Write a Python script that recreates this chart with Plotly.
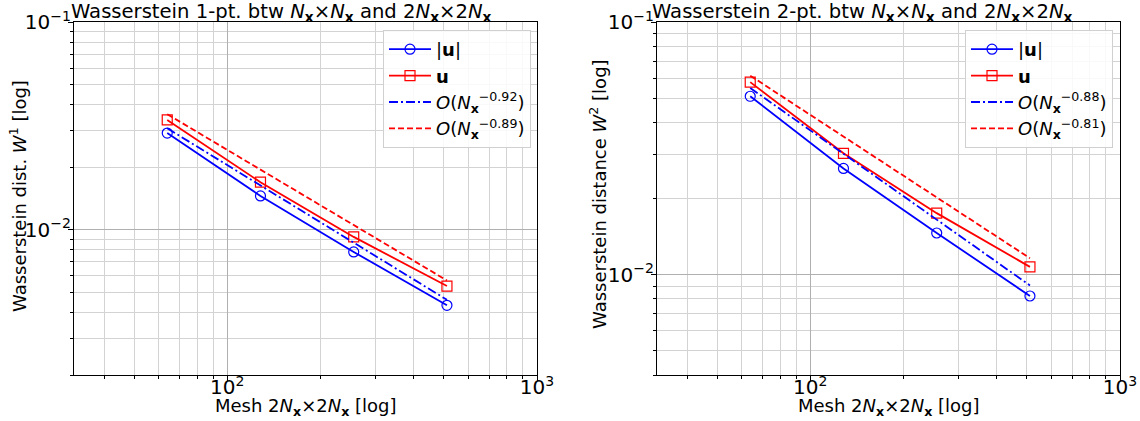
import math
import plotly.graph_objects as go

# ---------------- data ----------------
mesh = [64, 128, 256, 512]
fit_x = [64, 512]

w1_abs = [0.0292, 0.01455, 0.00782, 0.00433]
w1_vec = [0.0338, 0.01694, 0.00924, 0.00536]
w1_fit_abs = [0.0308, 0.0046]
w1_fit_vec = [0.0360, 0.0057]

w2_abs = [0.0508, 0.0263, 0.0146, 0.00822]
w2_vec = [0.0578, 0.0302, 0.0175, 0.01072]
w2_fit_abs = [0.0548, 0.00905]
w2_fit_vec = [0.0613, 0.0116]

w1_rates = ["0.92", "0.89"]
w2_rates = ["0.88", "0.81"]

# ---------------- figure ----------------
W, H = 1140, 421
FONT = "DejaVu Sans"
BLUE = "#0000ff"
RED = "#ff0000"

NX = "<i>N</i><sub><b>x</b></sub>"


def rate_label(r):
    return "<i>O</i>(" + NX + "<sup>\u2212" + r + "</sup>)"


fig = go.Figure()


def add_panel(xa, ya, legend, abs_v, vec_v, fit_abs, fit_vec, rates):
    fig.add_trace(go.Scatter(
        x=mesh, y=abs_v, mode="lines+markers", name="|<b>u</b>|",
        line=dict(color=BLUE, width=1.8),
        marker=dict(symbol="circle-open", size=10, color=BLUE, line=dict(width=1.2)),
        xaxis=xa, yaxis=ya, legend=legend))
    fig.add_trace(go.Scatter(
        x=mesh, y=vec_v, mode="lines+markers", name="<b>u</b>",
        line=dict(color=RED, width=1.8),
        marker=dict(symbol="square-open", size=10, color=RED, line=dict(width=1.2)),
        xaxis=xa, yaxis=ya, legend=legend))
    fig.add_trace(go.Scatter(
        x=fit_x, y=fit_abs, mode="lines", name=rate_label(rates[0]),
        line=dict(color=BLUE, width=1.8, dash="9px,3px,2px,3px"),
        xaxis=xa, yaxis=ya, legend=legend))
    fig.add_trace(go.Scatter(
        x=fit_x, y=fit_vec, mode="lines", name=rate_label(rates[1]),
        line=dict(color=RED, width=1.8, dash="6px,3px"),
        xaxis=xa, yaxis=ya, legend=legend))


add_panel("x", "y", "legend", w1_abs, w1_vec, w1_fit_abs, w1_fit_vec, w1_rates)
add_panel("x2", "y2", "legend2", w2_abs, w2_vec, w2_fit_abs, w2_fit_vec, w2_rates)

# plot-area pixel boxes
L1, R1 = 74, 537
L2, R2 = 657, 1120
TOP, BOT = 22, 375


def px(v):
    return v / W


def py(v):
    return 1 - v / H


common_axis = dict(
    type="log", automargin=False,
    showline=True, mirror=True, linecolor="black", linewidth=1,
    ticks="outside", ticklen=5, tickwidth=1, tickcolor="black",
    showgrid=True, gridcolor="#b0b0b0", gridwidth=1,
    dtick=1, exponentformat="power",
    tickfont=dict(family=FONT, size=16, color="black"),
    zeroline=False,
    minor=dict(dtick="D1", showgrid=True, gridcolor="#d3d3d3", gridwidth=1,
               ticks="outside", ticklen=3, tickcolor="black"),
)
xcommon = dict(common_axis, ticklabelstandoff=-10, range=[math.log10(32), 3])
ycommon = dict(common_axis, ticklabelstandoff=-6)

legend_common = dict(xanchor="left", yanchor="top",
                     bgcolor="rgba(255,255,255,0.85)", bordercolor="#d0d0d0", borderwidth=1,
                     font=dict(family=FONT, size=18), tracegroupgap=0, itemwidth=42)

fig.update_layout(
    width=W, height=H,
    margin=dict(l=0, r=0, t=0, b=0, autoexpand=False),
    paper_bgcolor="white", plot_bgcolor="white",
    font=dict(family=FONT, size=17, color="black"),
    xaxis=dict(xcommon, domain=[px(L1), px(R1)], anchor="y"),
    yaxis=dict(ycommon, domain=[py(BOT), py(TOP)], range=[math.log10(0.002), -1], anchor="x"),
    xaxis2=dict(xcommon, domain=[px(L2), px(R2)], anchor="y2"),
    yaxis2=dict(ycommon, domain=[py(BOT), py(TOP)], range=[math.log10(0.004), -1], anchor="x2"),
    legend=dict(legend_common, x=px(383), y=py(30)),
    legend2=dict(legend_common, x=px(965), y=py(30)),
    showlegend=True,
)

title_tail = " btw " + NX + "\u00d7" + NX + " and 2" + NX + "\u00d72" + NX
mesh_label = "Mesh 2" + NX + "\u00d72" + NX + " [log]"

annotations = [
    dict(text="Wasserstein 1-pt." + title_tail, x=px(281), y=py(-2), xanchor="center",
         yanchor="top", font=dict(size=19.6)),
    dict(text="Wasserstein 2-pt." + title_tail, x=px(862), y=py(-2), xanchor="center",
         yanchor="top", font=dict(size=19.6)),
    dict(text=mesh_label, x=px((L1 + R1) / 2), y=py(407), xanchor="center", yanchor="middle"),
    dict(text=mesh_label, x=px((L2 + R2) / 2), y=py(407), xanchor="center", yanchor="middle"),
    dict(text="Wasserstein dist. <i>W</i><sup>1</sup> [log]", x=px(18), y=py(196),
         textangle=-90, xanchor="center", yanchor="middle"),
    dict(text="Wasserstein distance <i>W</i><sup>2</sup> [log]", x=px(598), y=py(194),
         textangle=-90, xanchor="center", yanchor="middle"),
]
for a in annotations:
    size = a.get("font", {}).get("size", 18)
    a["font"] = dict(family=FONT, color="black", size=size)
    a.update(xref="paper", yref="paper", showarrow=False)
fig.update_layout(annotations=annotations)

fig.write_html("out.html")
